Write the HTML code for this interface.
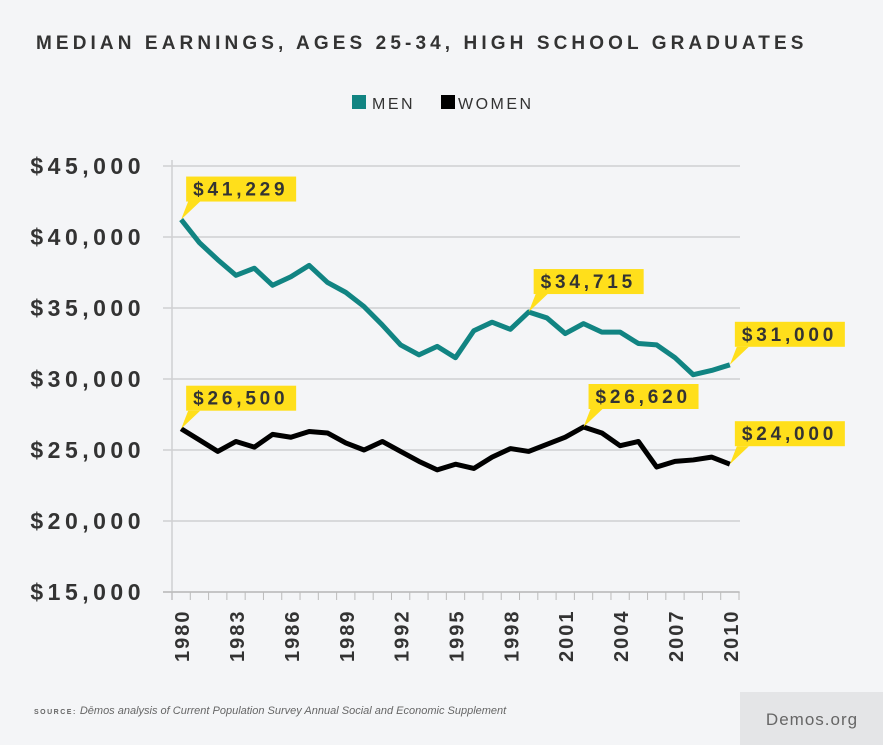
<!DOCTYPE html>
<html><head><meta charset="utf-8"><style>
body{margin:0;width:883px;height:745px;background:#f4f5f7;font-family:"Liberation Sans",sans-serif;overflow:hidden;position:relative}
</style></head><body>
<svg id="chart" width="883" height="745" style="position:absolute;left:0;top:0">
<text x="36" y="49" font-size="19" font-weight="bold" letter-spacing="4.1" fill="#333">MEDIAN EARNINGS, AGES 25-34, HIGH SCHOOL GRADUATES</text>
<g>
<rect x="352" y="95" width="14" height="14" fill="#118482"/>
<text x="372" y="109" font-size="16" letter-spacing="2.5" fill="#333">MEN</text>
<rect x="441" y="95" width="14" height="14" fill="#000"/>
<text x="458" y="109" font-size="16" letter-spacing="2.5" fill="#333">WOMEN</text>
</g>
<g id="grid"></g><g id="axes"></g><g id="lines"></g><g id="callouts"></g>
<text x="34" y="714" font-size="11" fill="#666"><tspan font-size="7" letter-spacing="1.5" font-weight="bold">SOURCE:</tspan> <tspan font-style="italic">Dēmos analysis of Current Population Survey Annual Social and Economic Supplement</tspan></text>
<rect x="740" y="692" width="143" height="53" fill="#e4e5e7"/>
<text x="812" y="725" font-size="17" text-anchor="middle" letter-spacing="1" fill="#666">Demos.org</text>
</svg>
<script>
const years=[1980,1981,1982,1983,1984,1985,1986,1987,1988,1989,1990,1991,1992,1993,1994,1995,1996,1997,1998,1999,2000,2001,2002,2003,2004,2005,2006,2007,2008,2009,2010];
const men=[41229,39600,38400,37300,37800,36600,37200,38000,36800,36100,35100,33800,32400,31700,32300,31500,33400,34000,33500,34715,34300,33200,33900,33300,33300,32500,32400,31500,30300,30600,31000];
const women=[26500,25700,24900,25600,25200,26100,25900,26300,26200,25500,25000,25600,24900,24200,23600,24000,23700,24500,25100,24900,25400,25900,26620,26200,25300,25600,23800,24200,24300,24500,24000];
const yTicks=[15000,20000,25000,30000,35000,40000,45000];
const xLabels=[1980,1983,1986,1989,1992,1995,1998,2001,2004,2007,2010];
const calloutsMen=[[1980,41229],[1999,34715],[2010,31000]];
const calloutsWomen=[[1980,26500],[2002,26620],[2010,24000]];
const NS="http://www.w3.org/2000/svg";
const x0=172,x1=739,yTop=166,yBot=592,vMin=15000,vMax=45000;
const step=(x1-x0)/years.length;
const xs=y=>x0+step*(years.indexOf(y)+0.5);
const ys=v=>yBot-(v-vMin)/(vMax-vMin)*(yBot-yTop);
function mk(t,a,p){const e=document.createElementNS(NS,t);for(const k in a)e.setAttribute(k,a[k]);p.appendChild(e);return e;}
const grid=document.getElementById('grid'),axes=document.getElementById('axes'),lines=document.getElementById('lines'),co=document.getElementById('callouts');
yTicks.forEach(v=>{
 const l=mk('line',{x1:163,x2:740,y1:ys(v),y2:ys(v),stroke:'#cfd0d2','stroke-width':1.5},grid);
 
 
 const t=mk('text',{x:145,y:ys(v)+8,'font-size':23,'font-weight':'bold','text-anchor':'end','letter-spacing':4.5,fill:'#333'},axes);
 t.textContent='$'+v.toLocaleString('en-US');
 
 
});
const va=mk('line',{x1:x0,x2:x0,y1:160,y2:600,stroke:'#cfd0d2','stroke-width':1.5},axes);


const ax=mk('line',{x1:163,x2:x1,y1:yBot,y2:yBot,stroke:'#bbb','stroke-width':1.5},axes);


for(let i=0;i<=years.length;i++){
 const tk=mk('line',{x1:x0+i*step,x2:x0+i*step,y1:yBot,y2:yBot+8,stroke:'#bbb','stroke-width':1},axes);
 
 
}
xLabels.forEach(y=>{
 const x=xs(y)+8;
 const t=mk('text',{x:x,y:662,transform:`rotate(-90 ${x} 662)`,'font-size':20,'font-weight':'bold','letter-spacing':2,fill:'#333'},axes);
 t.textContent=y;
 
 
});
function series(vals,color,name){
 const p=mk('polyline',{points:vals.map((v,i)=>xs(years[i])+','+ys(v)).join(' '),fill:'none',stroke:color,'stroke-width':5,'stroke-linejoin':'round'},lines);
 
 
}
series(men,'#118482','men-line');
series(women,'#000','women-line');
function callout(yr,v){
 const px=xs(yr),py=ys(v);
 const bx=px+5,by=py-43,w=110,h=25;
 const g=mk('g',{},co);
 
 
 mk('polygon',{points:`${px},${py} ${bx+2},${by+h} ${bx+14},${by+h}`,fill:'#ffdf1b'},g);
 mk('rect',{x:bx,y:by,width:w,height:h,fill:'#ffdf1b'},g);
 const t=mk('text',{x:bx+7,y:by+19,'font-size':19,'font-weight':'bold','letter-spacing':3.8,fill:'#333'},g);
 t.textContent='$'+v.toLocaleString('en-US');
}
calloutsMen.forEach(c=>callout(c[0],c[1]));
calloutsWomen.forEach(c=>callout(c[0],c[1]));
</script>
</body></html>
